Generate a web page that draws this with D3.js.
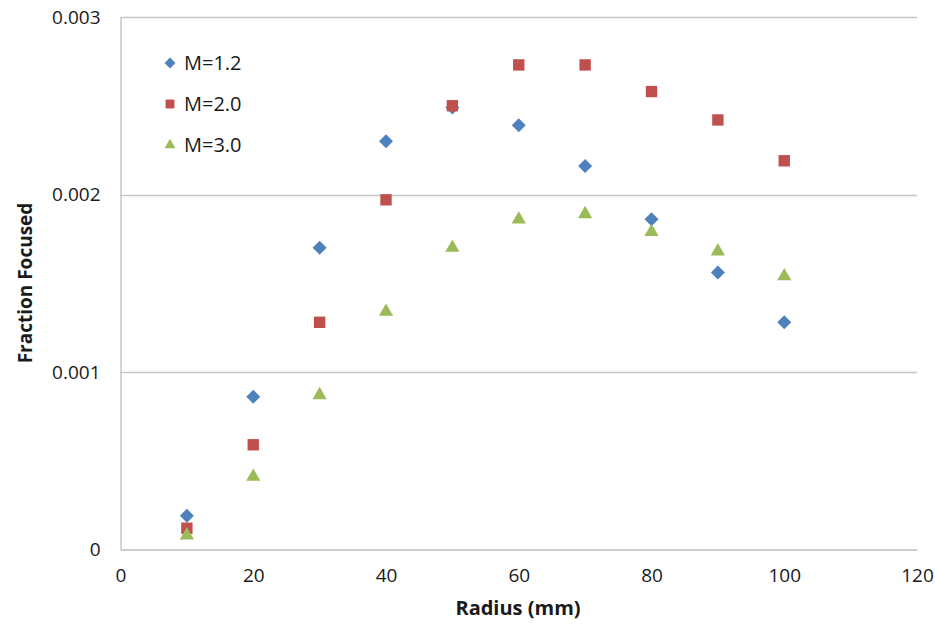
<!DOCTYPE html>
<html>
<head>
<meta charset="utf-8">
<script src="https://cdn.jsdelivr.net/npm/d3@7"></script>
<style>
  html, body { margin: 0; padding: 0; background: #fff; }
  svg { display: block; font-family: "Open Sans", "Noto Sans", sans-serif; }
</style>
</head>
<body>
<svg id="chart" width="935" height="626"></svg>
<script>
// Radius values (mm) shared by every series
const radius = [10, 20, 30, 40, 50, 60, 70, 80, 90, 100];

// Fraction focused for each magnification
const m12 = [0.00019, 0.00086, 0.00170, 0.00230, 0.00249, 0.00239, 0.00216, 0.00186, 0.00156, 0.00128];
const m20 = [0.00012, 0.00059, 0.00128, 0.00197, 0.00250, 0.00273, 0.00273, 0.00258, 0.00242, 0.00219];
const m30 = [0.00008, 0.00041, 0.00087, 0.00134, 0.00170, 0.00186, 0.00189, 0.00179, 0.00168, 0.00154];

const seriesNames = ["M=1.2", "M=2.0", "M=3.0"];
const xTicks = [0, 20, 40, 60, 80, 100, 120];
const yTicks = [0, 0.001, 0.002, 0.003];
const yTickLabels = ["0", "0.001", "0.002", "0.003"];

const series = [
  { name: seriesNames[0], values: m12, symbol: d3.symbolDiamond2, color: "#4F81BD", size: 125 },
  { name: seriesNames[1], values: m20, symbol: d3.symbolSquare2, color: "#C0504D", size: 165 },
  { name: seriesNames[2], values: m30, symbol: d3.symbolTriangle2, color: "#9BBB59", size: 145 }
];

const svg = d3.select("#chart");
const plot = { left: 120.5, right: 917, top: 17, bottom: 549.5 };

const x = d3.scaleLinear().domain([0, 120]).range([plot.left, plot.right]);
const y = d3.scaleLinear().domain([0, 0.003]).range([plot.bottom, plot.top]);

// horizontal gridlines
svg.append("g")
  .selectAll("line")
  .data(yTicks.slice(1))
  .join("line")
  .attr("x1", plot.left).attr("x2", plot.right)
  .attr("y1", d => Math.round(y(d)) + 0.5).attr("y2", d => Math.round(y(d)) + 0.5)
  .attr("stroke", "#c6c6c6").attr("stroke-width", 1.3);

// axes
const xAxis = svg.append("g")
  .attr("transform", `translate(0,${plot.bottom})`)
  .call(d3.axisBottom(x).tickValues(xTicks).tickSize(0).tickPadding(19));
const yAxis = svg.append("g")
  .attr("transform", `translate(${plot.left},0)`)
  .call(d3.axisLeft(y).tickValues(yTicks).tickSize(0).tickPadding(20)
    .tickFormat((d, i) => yTickLabels[i]));

[xAxis, yAxis].forEach(g => {
  g.select(".domain").attr("stroke", "#bfbfbf").attr("stroke-width", 1.3);
  g.selectAll("text")
    .attr("font-family", "'Open Sans', sans-serif")
    .attr("font-size", 19)
    .attr("fill", "#1a1a1a");
});

// axis titles
svg.append("text")
  .attr("x", 518).attr("y", 615)
  .attr("text-anchor", "middle")
  .attr("font-size", 20).attr("font-weight", "bold").attr("fill", "#1a1a1a")
  .text("Radius (mm)");
svg.append("text")
  .attr("transform", "translate(32,283) rotate(-90)")
  .attr("text-anchor", "middle")
  .attr("font-size", 19).attr("font-weight", "bold").attr("fill", "#1a1a1a")
  .text("Fraction Focused");

// markers
series.forEach(s => {
  svg.append("g")
    .selectAll("path")
    .data(radius.map((r, i) => [r, s.values[i]]))
    .join("path")
    .attr("transform", d => `translate(${x(d[0])},${y(d[1])})`)
    .attr("d", d3.symbol(s.symbol, s.size))
    .attr("fill", s.color);
});

// legend
const legend = svg.append("g").attr("transform", "translate(170,63)");
series.forEach((s, i) => {
  const row = legend.append("g").attr("transform", `translate(0,${i * 41})`);
  row.append("path")
    .attr("d", d3.symbol(s.symbol, s.size * 0.6))
    .attr("fill", s.color);
  row.append("text")
    .attr("x", 14).attr("dy", "0.35em")
    .attr("font-size", 20).attr("fill", "#1a1a1a")
    .text(s.name);
});
</script>
</body>
</html>
